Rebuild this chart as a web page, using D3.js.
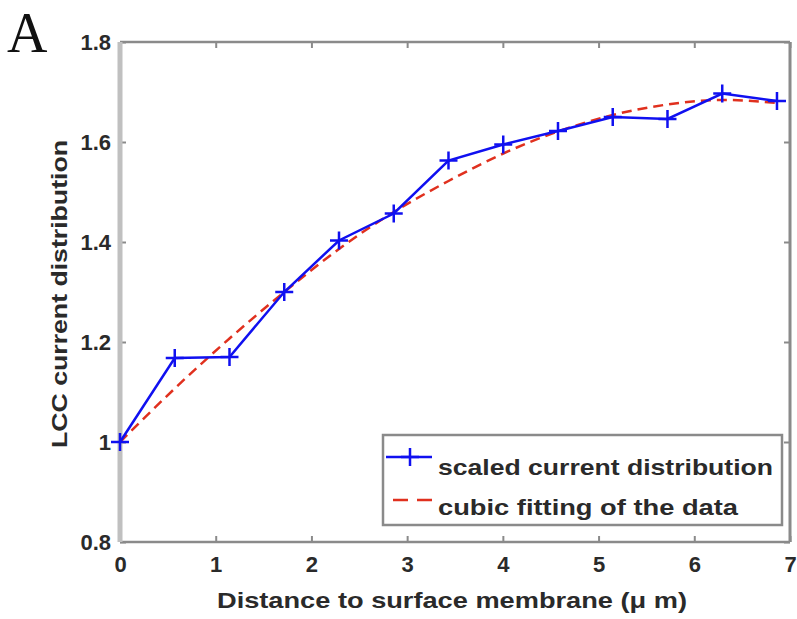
<!DOCTYPE html>
<html>
<head>
<meta charset="utf-8">
<script src="https://cdn.jsdelivr.net/npm/d3@7"></script>
<style>
  body { margin: 0; background: #fff; }
  svg { display: block; }
  text { font-family: Arial, "Liberation Sans", sans-serif; fill: #1a1a1a; }
</style>
</head>
<body>
<svg id="chart" width="797" height="619"></svg>
<script>
// distance to surface membrane (um)
var distances = [0, 0.572, 1.144, 1.716, 2.288, 2.86, 3.432, 4.004, 4.576, 5.148, 5.72, 6.292, 6.864];
// scaled current distribution (blue, + markers)
var scaledCurrent = [1.0, 1.168, 1.17, 1.30, 1.403, 1.457, 1.563, 1.595, 1.622, 1.650, 1.646, 1.697, 1.682];
// cubic fitting (red dashed), read at the same distances
var cubicFit = [1.0, 1.107, 1.207, 1.30, 1.386, 1.46, 1.522, 1.577, 1.621, 1.654, 1.675, 1.684, 1.678];

var xTicks = [0, 1, 2, 3, 4, 5, 6, 7];
var yTicks = [0.8, 1, 1.2, 1.4, 1.6, 1.8];
var yTickLabels = ['0.8', '1', '1.2', '1.4', '1.6', '1.8'];
var legendLabels = ['scaled current distribution', 'cubic fitting of the data'];

var plotL = 120, plotR = 790, plotT = 42, plotB = 542;
var svg = d3.select('#chart');

var x = d3.scaleLinear().domain([0, 7]).range([plotL, plotR]);
var y = d3.scaleLinear().domain([0.8, 1.8]).range([plotB, plotT]);

// panel letter
svg.append('text')
    .attr('x', 7).attr('y', 52)
    .style('font-family', '"Liberation Serif", "Times New Roman", serif')
    .style('font-size', '56px')
    .style('fill', '#111')
    .text('A');

// axes: bottom/top, left/right with inward ticks
var axisColor = '#8a8a8a';
var tickLen = 6;

var xAxisB = svg.append('g').attr('transform', 'translate(0,' + plotB + ')')
    .call(d3.axisBottom(x).tickValues(xTicks).tickSize(-tickLen).tickPadding(14).tickFormat(d3.format('d')));
var xAxisT = svg.append('g').attr('transform', 'translate(0,' + plotT + ')')
    .call(d3.axisTop(x).tickValues(xTicks).tickSize(-tickLen).tickFormat(''));
var yAxisL = svg.append('g').attr('transform', 'translate(' + plotL + ',0)')
    .call(d3.axisLeft(y).tickValues(yTicks).tickSize(-tickLen).tickPadding(9)
        .tickFormat(function(d, i){ return yTickLabels[i]; }));
var yAxisR = svg.append('g').attr('transform', 'translate(' + plotR + ',0)')
    .call(d3.axisRight(y).tickValues(yTicks).tickSize(-tickLen).tickFormat(''));

[xAxisB, xAxisT, yAxisL, yAxisR].forEach(function(g){
    g.select('.domain').remove();
    g.selectAll('.tick line').attr('stroke', axisColor).attr('stroke-width', 2);
    g.selectAll('text')
        .style('font-family', 'Arial, "Liberation Sans", sans-serif')
        .style('font-size', '22px')
        .style('font-weight', 'bold')
        .style('fill', '#2a2a2a');
});

// box
svg.append('line').attr('x1', plotL).attr('x2', plotR).attr('y1', plotT).attr('y2', plotT)
    .attr('stroke', axisColor).attr('stroke-width', 2.5);
svg.append('line').attr('x1', plotL).attr('x2', plotR).attr('y1', plotB).attr('y2', plotB)
    .attr('stroke', axisColor).attr('stroke-width', 2.5);
svg.append('line').attr('x1', plotR).attr('x2', plotR).attr('y1', plotT).attr('y2', plotB)
    .attr('stroke', axisColor).attr('stroke-width', 3);
svg.append('line').attr('x1', plotL).attr('x2', plotL).attr('y1', plotT).attr('y2', plotB)
    .attr('stroke', '#c0c0c0').attr('stroke-width', 5);

// axis titles
svg.append('text')
    .attr('x', 217).attr('y', 608)
    .attr('textLength', 470).attr('lengthAdjust', 'spacingAndGlyphs')
    .style('font-size', '22px').style('font-weight', 'bold').style('fill', '#2a2a2a')
    .text('Distance to surface membrane (\u03bc m)');

svg.append('text')
    .attr('transform', 'translate(67,448) rotate(-90)')
    .attr('textLength', 308).attr('lengthAdjust', 'spacingAndGlyphs')
    .style('font-size', '22px').style('font-weight', 'bold').style('fill', '#2a2a2a')
    .text('LCC current distribution');

// data lines
var fitLine = d3.line()
    .x(function(d, i){ return x(distances[i]); })
    .y(function(d){ return y(d); })
    .curve(d3.curveNatural);
var dataLine = d3.line()
    .x(function(d, i){ return x(distances[i]); })
    .y(function(d){ return y(d); });

svg.append('path')
    .datum(cubicFit)
    .attr('d', fitLine)
    .attr('fill', 'none')
    .attr('stroke', '#e0301e')
    .attr('stroke-width', 2.5)
    .attr('stroke-dasharray', '10,6');

svg.append('path')
    .datum(scaledCurrent)
    .attr('d', dataLine)
    .attr('fill', 'none')
    .attr('stroke', '#1010f0')
    .attr('stroke-width', 2.5);

var mk = 9;
svg.selectAll('path.plus')
    .data(scaledCurrent)
    .enter()
    .append('path')
    .attr('class', 'plus')
    .attr('d', function(d, i){
        var cx = x(distances[i]), cy = y(d);
        return 'M' + (cx - mk) + ',' + cy + 'H' + (cx + mk) + 'M' + cx + ',' + (cy - mk) + 'V' + (cy + mk);
    })
    .attr('stroke', '#1010f0')
    .attr('stroke-width', 2.5)
    .attr('fill', 'none');

// legend
var legend = svg.append('g');
legend.append('rect')
    .attr('x', 383).attr('y', 435).attr('width', 399).attr('height', 90)
    .attr('fill', '#fff').attr('stroke', axisColor).attr('stroke-width', 2.5);

legend.append('line')
    .attr('x1', 386).attr('x2', 432).attr('y1', 457).attr('y2', 457)
    .attr('stroke', '#1010f0').attr('stroke-width', 2.5);
legend.append('path')
    .attr('d', 'M' + (410 - mk) + ',457H' + (410 + mk) + 'M410,' + (457 - mk) + 'V' + (457 + mk))
    .attr('stroke', '#1010f0').attr('stroke-width', 2.5);
legend.append('line')
    .attr('x1', 393).attr('x2', 432).attr('y1', 500).attr('y2', 500)
    .attr('stroke', '#e0301e').attr('stroke-width', 2.5)
    .attr('stroke-dasharray', '15,9');

legend.selectAll('text.lab')
    .data(legendLabels)
    .enter()
    .append('text')
    .attr('class', 'lab')
    .attr('x', 438)
    .attr('y', function(d, i){ return 475 + i * 40; })
    .attr('textLength', function(d, i){ return i == 0 ? 335 : 300; })
    .attr('lengthAdjust', 'spacingAndGlyphs')
    .style('font-size', '22px').style('font-weight', 'bold').style('fill', '#2a2a2a')
    .text(function(d){ return d; });
</script>
</body>
</html>
